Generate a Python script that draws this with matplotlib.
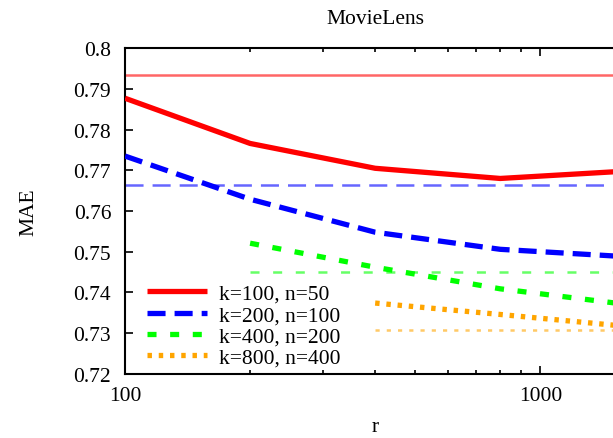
"""MAE against r on MovieLens for several (k, n) settings."""
import matplotlib
import matplotlib.pyplot as plt
from matplotlib.ticker import FixedLocator, FuncFormatter, NullFormatter

matplotlib.use("Agg")

plt.rcParams["font.family"] = ["Liberation Serif", "DejaVu Serif"]
plt.rcParams["lines.scale_dashes"] = False

r_values = [100, 200, 400, 800, 1600]
labels = ["k=100, n=50", "k=200, n=100", "k=400, n=200", "k=800, n=400"]
mae_k100 = [0.7877, 0.7766, 0.7705, 0.7680, 0.7698]
mae_k200 = [0.7735, 0.7629, 0.7548, 0.7506, 0.7488]
mae_k400 = [None, 0.7521, 0.7462, 0.7409, 0.7371]
mae_k800 = [None, None, 0.7374, 0.7346, 0.7317]
baseline_mae = [0.7934, 0.7664, 0.7450, 0.7307]

colors = ["#ff0000", "#0000ff", "#00ff00", "#ffa500"]
dash_styles = ["-", (0, (13, 6.5)), (0, (6.5, 9.8)), (0, (3.2, 4.9))]
base_dashes = ["-", (0, (13, 6.5)), (0, (6.5, 9.8)), (0, (3.0, 5.1))]
FS = 15.5

fig = plt.figure(figsize=(6.13, 4.39), dpi=100)
ax = fig.add_axes([0.204, 0.146, 0.816, 0.742])

series = [mae_k100, mae_k200, mae_k400, mae_k800]
for ys, base, color, ls, bls, label in zip(series, baseline_mae, colors,
                                           dash_styles, base_dashes, labels):
    pts = [(x, y) for x, y in zip(r_values, ys) if y is not None]
    xs = [p[0] for p in pts]
    vals = [p[1] for p in pts]
    ax.plot(xs, vals, color=color, lw=3.8, linestyle=ls,
            solid_capstyle="butt", dash_capstyle="butt", label=label, zorder=3)
    ax.plot([xs[0], r_values[-1]], [base, base], color=color, lw=1.8,
            alpha=0.6, linestyle=bls, dash_capstyle="butt", zorder=2)

ax.set_xscale("log")
ax.set_xlim(100, 1600)
ax.set_ylim(0.72, 0.80)

ax.xaxis.set_major_locator(FixedLocator([100, 1000]))
ax.xaxis.set_minor_locator(FixedLocator([200, 300, 400, 500, 600, 700, 800, 900]))
ax.xaxis.set_major_formatter(FuncFormatter(lambda v, _: f"{v:g}"))
ax.xaxis.set_minor_formatter(NullFormatter())
ax.set_yticks([0.72 + 0.01 * i for i in range(9)])
ax.yaxis.set_major_formatter(FuncFormatter(lambda v, _: f"{v:.2f}".rstrip("0")))

ax.tick_params(which="both", direction="in", top=True, right=True,
               labelsize=FS, width=1.2)
ax.tick_params(which="major", length=6)
ax.tick_params(which="minor", length=3)
ax.tick_params(axis="x", pad=9)
ax.tick_params(axis="y", pad=10)
for spine in ax.spines.values():
    spine.set_linewidth(1.5)

ax.set_xlabel("r", fontsize=FS, labelpad=8)
ax.set_ylabel("MAE", fontsize=FS, labelpad=25)
ax.set_title("MovieLens", fontsize=FS, pad=18)

ax.legend(loc="lower left", bbox_to_anchor=(0.03, 0.0), frameon=False,
          fontsize=FS, handlelength=2.8, handletextpad=0.55, labelspacing=0.05,
          borderaxespad=0.0, borderpad=0.3)

fig.savefig("out.png", dpi=100)
